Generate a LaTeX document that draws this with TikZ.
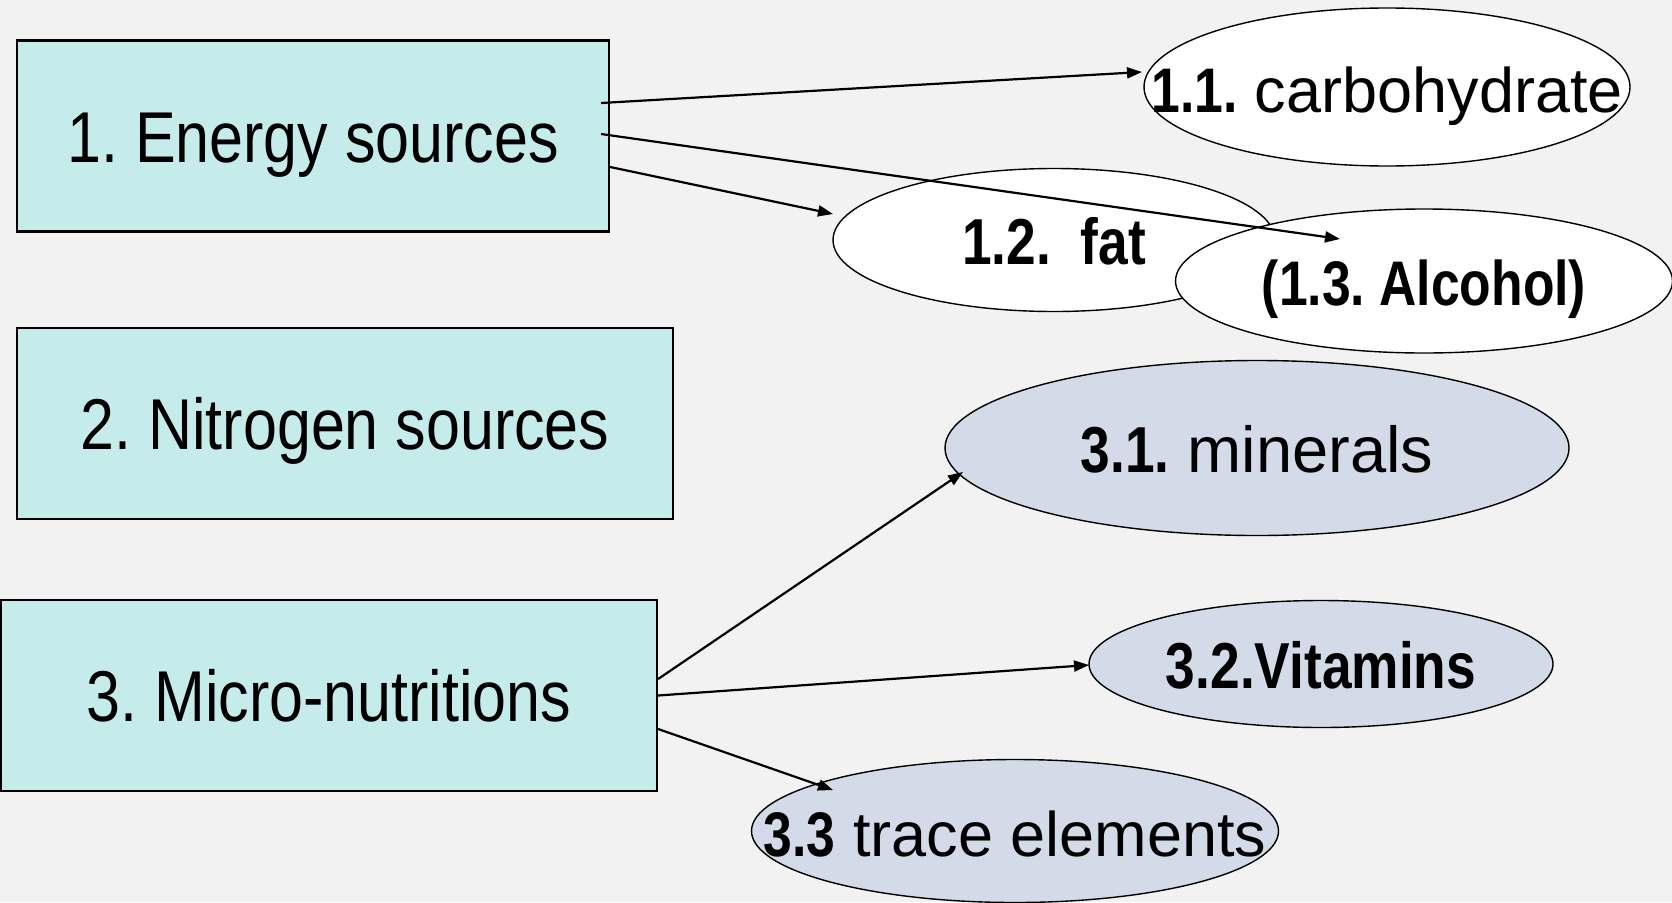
\documentclass[tikz,border=0pt]{standalone}
\usepackage{fontspec}
\setmainfont{Liberation Sans}
\newfontfamily\boxfont{Liberation Sans}[FakeStretch=0.847]
\newfontfamily\narrowfont{Liberation Sans}[FakeStretch=0.82]
\usetikzlibrary{shapes.geometric,arrows.meta,calc}
\definecolor{bgcol}{RGB}{242,242,242}
\definecolor{boxcol}{RGB}{197,236,235}
\definecolor{elcol}{RGB}{210,219,231}
\frenchspacing
\tikzset{
  srcbox/.style={draw=black, line width=2.2pt, fill=boxcol, inner sep=0pt,
    minimum height=191pt},
  boxtext/.style={inner sep=0pt, anchor=base, font=\boxfont\fontsize{72}{80}\selectfont},
  ell/.style={ellipse, draw=black, line width=1.4pt, inner sep=0pt},
  whiteell/.style={ell, fill=white},
  blueell/.style={ell, fill=elcol},
  lbl/.style={inner sep=0pt, anchor=base},
  conn/.style={line width=2.2pt, -{Triangle[length=15pt,width=11pt]}},
}
\newcommand{\nb}[1]{{\narrowfont\bfseries #1}}
\begin{document}
\begin{tikzpicture}[x=1pt,y=-1pt]
\useasboundingbox (0,0) rectangle (1672,902);
\fill[bgcol] (0,0) rectangle (1672,902);

% source boxes
\node[srcbox, minimum width=592pt] (b1) at (313,136) {};
\node[srcbox, minimum width=656pt] (b2) at (345,423.5) {};
\node[srcbox, minimum width=656pt] (b3) at (329,695.5) {};
\node[boxtext] (tb1) at ($(b1.center)+(0,26)$) {1. Energy sources};
\node[boxtext] (tb2) at ($(b2.center)+(0,26)$) {2. Nitrogen sources};
\node[boxtext] (tb3) at ($(b3.center)+(0,26)$) {3. Micro-nutritions};

% ellipses
\node[whiteell, minimum width=486pt, minimum height=158pt] (e11) at (1387,87) {};
\node[whiteell, minimum width=442pt, minimum height=143pt] (e12) at (1054,240) {};
\node[whiteell, minimum width=497pt, minimum height=144pt] (e13) at (1424,281) {};
\node[blueell, minimum width=624pt, minimum height=175pt] (e31) at (1257,448) {};
\node[blueell, minimum width=464pt, minimum height=127pt] (e32) at (1321,664) {};
\node[blueell, minimum width=527pt, minimum height=143pt] (e33) at (1015,831) {};

% labels
\node[lbl, font=\fontsize{63}{70}\selectfont] (t11) at ($(e11.center)+(0,25)$) {\nb{1.1.} carbohydrate};
\node[lbl, font=\fontsize{65}{72}\selectfont] (t12) at ($(e12.center)+(0,24)$) {\nb{1.2.\ \ fat}};
\node[lbl, font=\fontsize{63}{70}\selectfont] (t13) at ($(e13.center)+(0,24)$) {\nb{(1.3. Alcohol)}};
\node[lbl, font=\fontsize{65}{72}\selectfont] (t31) at ($(e31.center)+(0,24)$) {\nb{3.1.} minerals};
\node[lbl, font=\fontsize{65}{72}\selectfont] (t32) at ($(e32.center)+(0,24)$) {\nb{3.2.Vitamins}};
\node[lbl, font=\fontsize{63}{70}\selectfont] (t33) at ($(e33.center)+(0,25)$) {\nb{3.3} trace elements};

% connectors
\draw[conn] ($(b1.east)+(-9,-33)$) -- ($(e11.center)+(-245,-15)$);
\draw[conn] ($(b1.east)+(-9,-2)$) -- ($(e13.center)+(-84,-42)$);
\draw[conn] ($(b1.east)+(0,31)$) -- ($(e12.center)+(-221,-26)$);
\draw[conn] ($(b3.east)+(0,-16.5)$) -- ($(e31.center)+(-294,24)$);
\draw[conn] (b3.east) -- ($(e32.center)+(-232,1)$);
\draw[conn] ($(b3.east)+(0,33.5)$) -- ($(e33.center)+(-182,-41)$);
\end{tikzpicture}
\end{document}
